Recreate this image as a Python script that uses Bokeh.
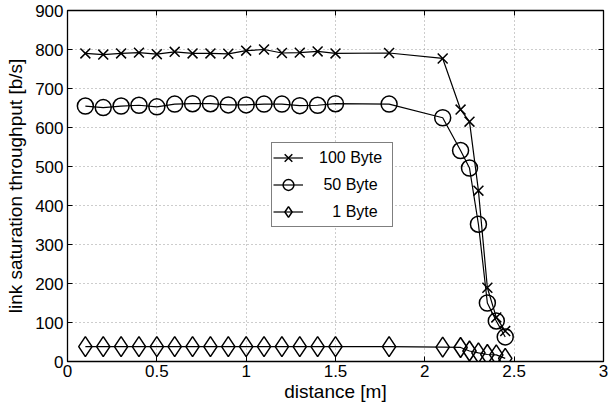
from bokeh.plotting import figure
from bokeh.models import FixedTicker, LinearAxis, Range1d, Legend, CustomLabelingPolicy
from bokeh.embed import file_html
from bokeh.resources import INLINE

# ---- data ----
x_vals = [0.1, 0.2, 0.3, 0.4, 0.5, 0.6, 0.7, 0.8, 0.9, 1.0, 1.1, 1.2, 1.3, 1.4, 1.5,
          1.8, 2.1, 2.2, 2.25, 2.3, 2.35, 2.4, 2.45]
byte100 = [790, 787, 790, 792, 788, 794, 790, 790, 789, 797, 800, 791, 792, 795, 790,
           791, 777, 646, 615, 438, 189, 113, 78]
byte50 = [655, 651, 655, 657, 653, 660, 661, 661, 658, 658, 660, 660, 656, 657, 661,
          660, 625, 541, 496, 352, 150, 104, 63]
byte1 = [38, 38, 38, 38, 38, 38, 38, 38, 38, 38, 38, 38, 38, 38, 38,
         38, 37, 36, 27, 22, 18, 17, 8]
labels = ["100 Byte", "\u00a050 Byte", "\u00a0\u00a0\u00a01 Byte"]
markers = ["x", "circle", "diamond"]
x_ticks = [0, 0.5, 1, 1.5, 2, 2.5, 3]
y_ticks = [0, 100, 200, 300, 400, 500, 600, 700, 800, 900]

FONT = "Liberation Sans"

p = figure(width=608, height=407, output_backend="svg", toolbar_location=None,
           x_range=Range1d(0, 3), y_range=Range1d(0, 900),
           min_border_left=67, min_border_right=5, min_border_top=10, min_border_bottom=46)
p.background_fill_color = "white"
p.border_fill_color = "white"
p.outline_line_color = "black"
p.outline_line_width = 1.3

for ax in (p.xaxis[0], p.yaxis[0]):
    ax.major_label_text_font = FONT
    ax.major_label_text_font_size = "17px"
    ax.major_label_text_color = "black"
    ax.axis_label_text_font = FONT
    ax.axis_label_text_font_size = "19px"
    ax.axis_label_text_font_style = "normal"
    ax.axis_label_text_color = "black"
    ax.major_tick_in = 5
    ax.major_tick_out = 0
    ax.minor_tick_line_color = None
    ax.axis_line_color = "black"
    ax.major_tick_line_color = "black"
    ax.major_label_standoff = 4

p.xaxis.ticker = FixedTicker(ticks=x_ticks)
p.yaxis.ticker = FixedTicker(ticks=y_ticks)
p.xaxis.axis_label = "distance [m]"
p.yaxis.axis_label = "link saturation throughput [b/s]"
p.xaxis.axis_label_standoff = 1
p.yaxis.axis_label_standoff = 6
p.xaxis.major_label_standoff = 3

# top and right tick-only axes (no labels drawn)
no_labels = "const n = indices.size; for (let i = 0; i < n; i++) { indices.unset(i) } return indices"
top = LinearAxis(ticker=FixedTicker(ticks=x_ticks),
                 major_label_policy=CustomLabelingPolicy(code=no_labels),
                 major_label_text_font_size="0px",
                 major_tick_in=5, major_tick_out=0, minor_tick_line_color=None,
                 major_label_standoff=0, axis_line_color="black")
right = LinearAxis(ticker=FixedTicker(ticks=y_ticks),
                   major_label_policy=CustomLabelingPolicy(code=no_labels),
                   major_label_text_font_size="0px",
                   major_tick_in=5, major_tick_out=0, minor_tick_line_color=None,
                   major_label_standoff=0, axis_line_color="black")
p.add_layout(top, "above")
p.add_layout(right, "right")

p.xgrid.ticker = FixedTicker(ticks=x_ticks)
p.ygrid.ticker = FixedTicker(ticks=y_ticks)
for g in (p.xgrid[0], p.ygrid[0]):
    g.grid_line_color = "#9a9a9a"
    g.grid_line_dash = "1 3"
    g.grid_line_width = 1

series = [byte100, byte50, byte1]
sizes = [14, 16, 20]
items = []
for ys, lab, mk, sz in zip(series, labels, markers, sizes):
    r1 = p.line(x_vals, ys, line_color="black", line_width=1.2)
    r2 = p.scatter(x_vals, ys, marker=mk, size=sz, line_color="black",
                   fill_color=None, line_width=1.5)
    items.append((lab, [r1, r2]))

legend = Legend(items=items, location=(204, 134))
legend.label_text_font = FONT
legend.label_text_font_size = "16px"
legend.label_text_color = "black"
legend.border_line_color = "black"
legend.border_line_width = 1.2
legend.background_fill_color = "white"
legend.background_fill_alpha = 1
legend.padding = 1
legend.spacing = 0
legend.margin = 0
legend.glyph_width = 30
legend.glyph_height = 27
legend.label_height = 27
legend.label_width = 72
legend.label_standoff = 16
p.add_layout(legend, "center")

open("out.html", "w").write(file_html(p, INLINE))
